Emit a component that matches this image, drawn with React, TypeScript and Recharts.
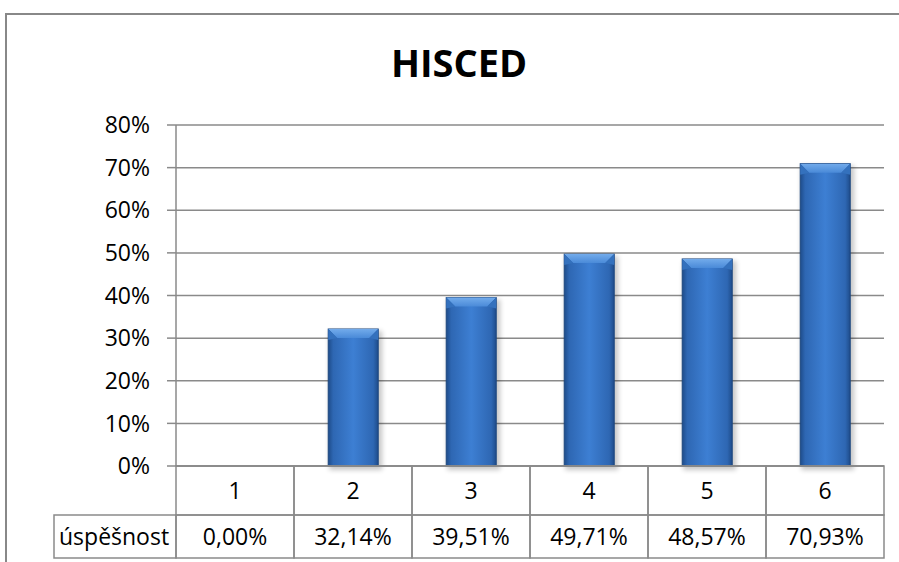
import { BarChart, Bar, XAxis, YAxis, CartesianGrid } from 'recharts';

const categories = ['1', '2', '3', '4', '5', '6'];
const successRates = [0, 32.14, 39.51, 49.71, 48.57, 70.93];
const yTicks = [0, 10, 20, 30, 40, 50, 60, 70, 80];
const rowLabel = 'úspěšnost';
const title = 'HISCED';

const data = categories.map((c, i) => ({ category: c, value: successRates[i] }));

const FONT = '"Open Sans", sans-serif';
const GRID = '#8a8a8a';
const CHART_W = 899;
const CHART_H = 562;
const MARGIN = { top: 125, right: 15, bottom: 0, left: 0 };
const Y_AXIS_W = 176;
const X_AXIS_H = 96;
const PLOT_LEFT = MARGIN.left + Y_AXIS_W;
const PLOT_W = CHART_W - PLOT_LEFT - MARGIN.right;
const PLOT_BOTTOM = CHART_H - MARGIN.bottom - X_AXIS_H;
const ROW1_H = 49;
const ROW2_H = 43;
const LABEL_CELL_LEFT = 54;
const TEXT_SIZE = 23;

const fmt = (v: number) => `${v.toFixed(2).replace('.', ',')}%`;

function TableTick(props: any) {
  const { x, index } = props;
  const cellW = PLOT_W / categories.length;
  const left = x - cellW / 2;
  const top = PLOT_BOTTOM;
  return (
    <g>
      <rect x={left} y={top} width={cellW} height={ROW1_H} fill="none" stroke={GRID} strokeWidth={1.5} />
      <rect x={left} y={top + ROW1_H} width={cellW} height={ROW2_H} fill="none" stroke={GRID} strokeWidth={1.5} />
      <text x={x} y={top + ROW1_H / 2 + 8} textAnchor="middle" fontSize={TEXT_SIZE} fontFamily={FONT} fill="#000">
        {categories[index]}
      </text>
      <text x={x} y={top + ROW1_H + ROW2_H / 2 + 8} textAnchor="middle" fontSize={TEXT_SIZE} fontFamily={FONT} fill="#000">
        {fmt(successRates[index])}
      </text>
      {index === 0 && (
        <g>
          <rect
            x={LABEL_CELL_LEFT}
            y={top + ROW1_H}
            width={PLOT_LEFT - LABEL_CELL_LEFT}
            height={ROW2_H}
            fill="none"
            stroke={GRID}
            strokeWidth={1.5}
          />
          <text x={LABEL_CELL_LEFT + 5} y={top + ROW1_H + ROW2_H / 2 + 8} fontSize={TEXT_SIZE} fontFamily={FONT} fill="#000">
            {rowLabel}
          </text>
        </g>
      )}
    </g>
  );
}

function BevelBar(props: any) {
  const { x, y, width, height } = props;
  if (!height || height <= 0) return null;
  const b = Math.min(9, height / 2);
  return (
    <g>
      <defs>
        <linearGradient id="barBody" x1="0" y1="0" x2="1" y2="0">
          <stop offset="0" stopColor="#1e4c8a" />
          <stop offset="0.1" stopColor="#2e67b3" />
          <stop offset="0.5" stopColor="#3d7fd3" />
          <stop offset="0.9" stopColor="#2e67b3" />
          <stop offset="1" stopColor="#1e4c8a" />
        </linearGradient>
        <linearGradient id="barTop" x1="0" y1="0" x2="0" y2="1">
          <stop offset="0" stopColor="#72abeb" />
          <stop offset="1" stopColor="#4a8ad8" />
        </linearGradient>
        <filter id="barShadow" x="-30%" y="-10%" width="160%" height="130%">
          <feGaussianBlur stdDeviation="2.5" />
        </filter>
      </defs>
      <rect x={x + 1} y={y + 2} width={width + 3} height={height + 2} fill="#000" opacity={0.22} filter="url(#barShadow)" />
      <rect x={x} y={y} width={width} height={height} fill="url(#barBody)" stroke="#1d477f" strokeWidth={1} />
      <polygon
        points={`${x},${y} ${x + width},${y} ${x + width - b},${y + b} ${x + b},${y + b}`}
        fill="url(#barTop)"
      />
      <polygon points={`${x},${y} ${x + b},${y + b} ${x},${y + b + 2}`} fill="#3471bd" />
      <polygon points={`${x + width},${y} ${x + width - b},${y + b} ${x + width},${y + b + 2}`} fill="#3471bd" />
    </g>
  );
}

export default function App() {
  return (
    <div
      style={{
        position: 'absolute',
        left: 0,
        top: 0,
        width: CHART_W,
        height: CHART_H,
        overflow: 'hidden',
        background: '#fff',
      }}
    >
      <div
        style={{
          position: 'absolute',
          left: 5,
          top: 13,
          right: 0,
          bottom: 0,
          borderLeft: '2px solid #888',
          borderTop: '2px solid #888',
        }}
      />
      <div
        style={{
          position: 'absolute',
          left: 0,
          width: 918,
          top: 37,
          textAlign: 'center',
          fontFamily: FONT,
          fontWeight: 700,
          fontSize: 38,
          lineHeight: '50px',
          color: '#000',
        }}
      >
        {title}
      </div>
      <div style={{ position: 'absolute', left: 0, top: 0 }}>
        <BarChart width={CHART_W} height={CHART_H} data={data} margin={MARGIN} barCategoryGap="29%">
          <CartesianGrid vertical={false} stroke={GRID} strokeWidth={1.5} />
          <YAxis
            width={Y_AXIS_W}
            domain={[0, 80]}
            ticks={yTicks}
            interval={0}
            tickFormatter={(v: number) => `${v}%`}
            tick={{ fontSize: TEXT_SIZE, fontFamily: FONT, fill: '#000' }}
            axisLine={{ stroke: GRID, strokeWidth: 1.5 }}
            tickLine={{ stroke: GRID, strokeWidth: 1.5 }}
            tickSize={9}
            tickMargin={17}
          />
          <XAxis
            dataKey="category"
            height={X_AXIS_H}
            axisLine={{ stroke: GRID, strokeWidth: 1.5 }}
            tickLine={false}
            interval={0}
            tick={<TableTick />}
          />
          <Bar dataKey="value" shape={<BevelBar />} isAnimationActive={false} />
        </BarChart>
      </div>
    </div>
  );
}
